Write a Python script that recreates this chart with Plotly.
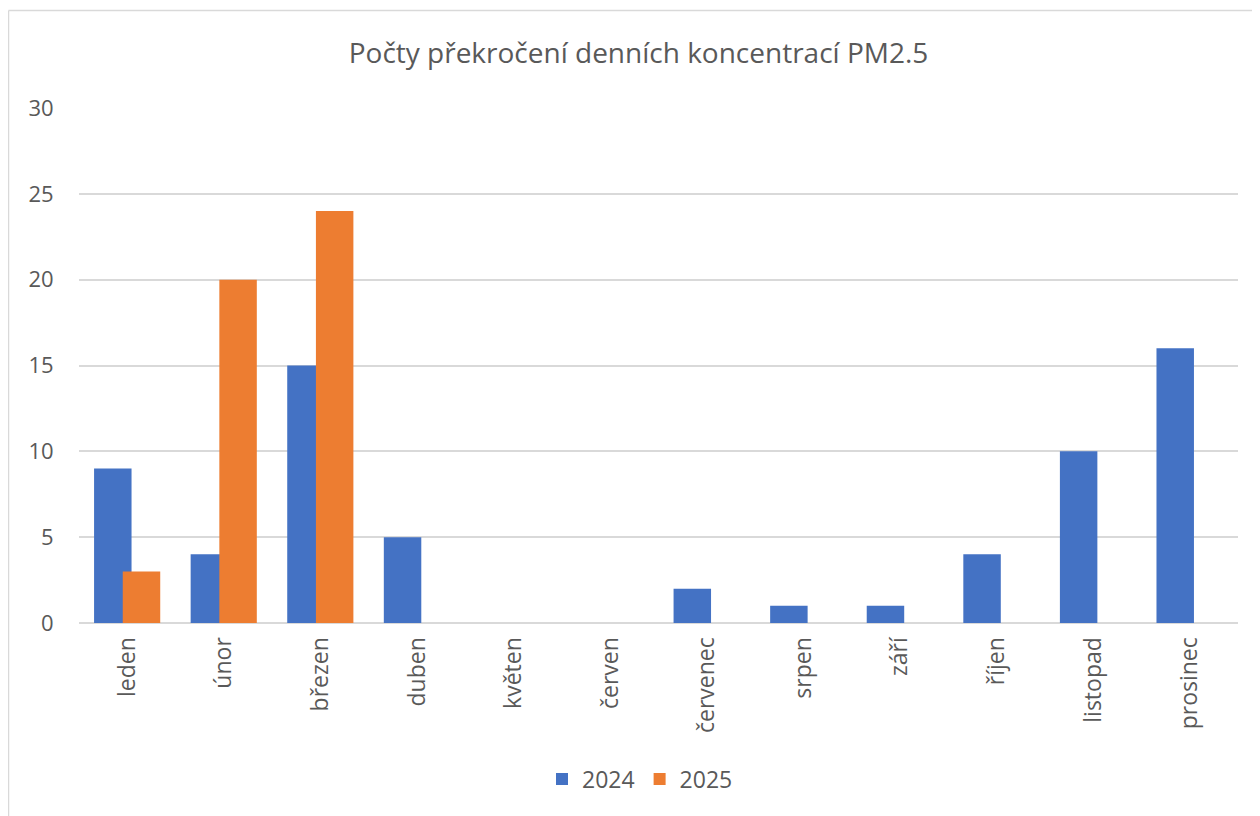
import plotly.graph_objects as go

months = ["leden", "únor", "březen", "duben", "květen", "červen",
          "červenec", "srpen", "září", "říjen", "listopad", "prosinec"]
values_2024 = [9, 4, 15, 5, 0, 0, 2, 1, 1, 4, 10, 16]
values_2025 = [3, 20, 24, None, None, None, None, None, None, None, None, None]
y_ticks = [0, 5, 10, 15, 20, 25, 30]

BLUE = "#4472C4"
ORANGE = "#ED7D31"
TEXT = "#595959"
GRID = "#D9D9D9"
FONT = "Open Sans"

OFF = 8  # default page body margin
W, H = 1260 - OFF, 816 - OFF
ML, MR, MT, MB = 79 - OFF, 22, 108 - OFF, 193
pw = W - ML - MR
ph = H - MT - MB

fig = go.Figure()
fig.add_trace(go.Bar(
    x=months, y=values_2024, name="2024",
    marker=dict(color=BLUE, line=dict(width=0)),
    width=0.388, offset=-0.344,
))
fig.add_trace(go.Bar(
    x=months, y=values_2025, name="2025",
    marker=dict(color=ORANGE, line=dict(width=0)),
    width=0.388, offset=-0.047,
))

# chart border (left and top edges visible); page coords -> paper coords
def px(xp):
    return (xp - OFF - ML) / pw

def py(yp):
    return (OFF + MT + ph - yp) / ph

bx = px(8.5)
by = py(10.5)
fig.add_shape(type="line", xref="paper", yref="paper",
              x0=bx, x1=bx, y0=by, y1=-1, line=dict(color=GRID, width=1.5))
fig.add_shape(type="line", xref="paper", yref="paper",
              x0=bx, x1=2, y0=by, y1=by, line=dict(color=GRID, width=1.5))

fig.update_layout(
    width=W, height=H,
    margin=dict(l=ML, r=MR, t=MT, b=MB),
    paper_bgcolor="white", plot_bgcolor="white",
    barmode="overlay",
    font=dict(family=FONT, color=TEXT),
    title=dict(text="Počty překročení denních koncentrací PM2.5",
               x=(638.5 - OFF) / W, xanchor="center", y=1 - (53 - OFF) / H, yanchor="middle",
               font=dict(size=28, color=TEXT, family=FONT)),
    showlegend=True,
    legend=dict(orientation="h", x=px(640), xanchor="center",
                y=py(779), yanchor="middle",
                font=dict(size=23, color=TEXT), itemwidth=30,
                traceorder="normal"),
    xaxis=dict(tickangle=-90, tickfont=dict(size=23, color=TEXT),
               showgrid=False, showline=False, ticks="outside", ticklen=4,
               tickcolor="rgba(0,0,0,0)", range=[-0.5, 11.5]),
    yaxis=dict(range=[0, 30], tickvals=y_ticks, showgrid=True, gridcolor=GRID,
               gridwidth=1.5, zeroline=True, zerolinecolor=GRID, zerolinewidth=1.5,
               tickfont=dict(size=22, color=TEXT), ticks="outside", ticklen=20,
               tickcolor="rgba(0,0,0,0)"),
)

fig.write_html("out.html")
